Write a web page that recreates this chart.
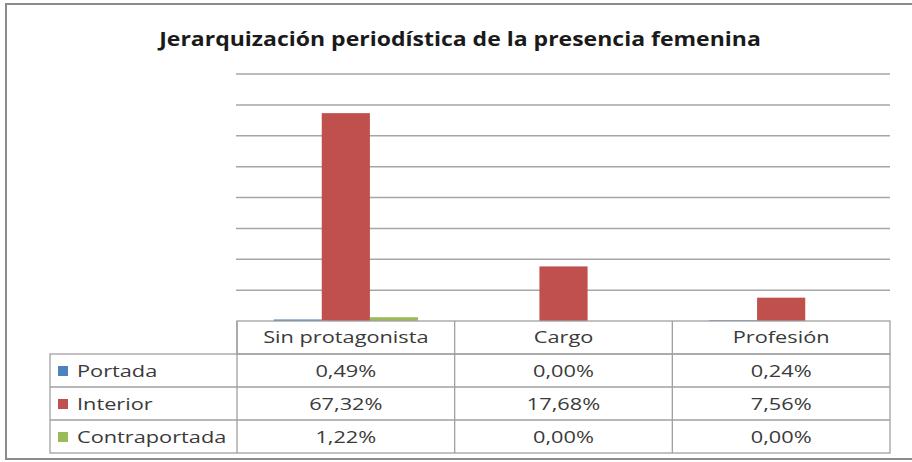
<!DOCTYPE html>
<html>
<head>
<meta charset="utf-8">
<script src="https://cdn.jsdelivr.net/npm/d3@7"></script>
<style>
  body { margin: 0; background: #fff; }
  text { font-family: "Open Sans", "Noto Sans", sans-serif; }
</style>
</head>
<body>
<div id="chart"></div>
<script>
const categories = ["Sin protagonista", "Cargo", "Profesión"];
const seriesNames = ["Portada", "Interior", "Contraportada"];
const portada = [0.49, 0.0, 0.24];
const interior = [67.32, 17.68, 7.56];
const contraportada = [1.22, 0.0, 0.0];
const yTicks = [0, 10, 20, 30, 40, 50, 60, 70, 80];
const colors = ["#4f81bd", "#c0504d", "#9bbb59"];

const seriesValues = [portada, interior, contraportada];
const fmt = v => d3.format(".2f")(v).replace(".", ",") + "%";

const width = 912,
  height = 462;
const plot = { left: 237, right: 890, top: 74, bottom: 321 };
const rowH = 33;
const legendLeft = 50;
const stretch = 1.36; // the table text looks horizontally wide

const svg = d3
  .select("#chart")
  .append("svg")
  .attr("width", width)
  .attr("height", height);

// chart frame
svg
  .append("rect")
  .attr("x", 6)
  .attr("y", 4)
  .attr("width", width + 10)
  .attr("height", 455)
  .attr("fill", "#fff")
  .attr("stroke", "#8c8c8c")
  .attr("stroke-width", 2);

svg
  .append("text")
  .attr("transform", "translate(460,46) scale(1.15,1)")
  .attr("text-anchor", "middle")
  .attr("font-size", 20)
  .attr("font-weight", "bold")
  .attr("fill", "#1a1a1a")
  .text("Jerarquización periodística de la presencia femenina");

const x0 = d3
  .scaleBand()
  .domain(categories)
  .range([plot.left, plot.right])
  .padding(0);

const x1 = d3
  .scaleBand()
  .domain(seriesNames)
  .range([0, x0.bandwidth()])
  .paddingInner(0)
  .paddingOuter(0.76);

const y = d3
  .scaleLinear()
  .domain([0, 80])
  .range([plot.bottom, plot.top]);

// gridlines
svg
  .append("g")
  .selectAll("line")
  .data(yTicks.slice(1))
  .enter()
  .append("line")
  .attr("x1", plot.left - 1)
  .attr("x2", plot.right)
  .attr("y1", d => y(d))
  .attr("y2", d => y(d))
  .attr("stroke", "#a6a6a6")
  .attr("stroke-width", 1.5);

// bars
const groups = svg
  .append("g")
  .selectAll("g")
  .data(categories)
  .enter()
  .append("g")
  .attr("transform", d => `translate(${x0(d)},0)`);

groups
  .selectAll("rect")
  .data((c, ci) => seriesNames.map((s, si) => ({ s, si, v: seriesValues[si][ci] })))
  .enter()
  .append("rect")
  .attr("x", d => x1(d.s))
  .attr("width", x1.bandwidth())
  .attr("y", d => y(d.v))
  .attr("height", d => y(0) - y(d.v))
  .attr("fill", d => colors[d.si]);

// data table
const table = svg.append("g");
const lineColor = "#a0a0a0";
const textColor = "#3a3a3a";

// header row
table
  .append("rect")
  .attr("x", plot.left)
  .attr("y", plot.bottom)
  .attr("width", plot.right - plot.left)
  .attr("height", rowH)
  .attr("fill", "none")
  .attr("stroke", lineColor)
  .attr("stroke-width", 1.3);

table
  .selectAll(".hdr")
  .data(categories)
  .enter()
  .append("text")
  .attr("class", "hdr")
  .attr("transform", d => `translate(${x0(d) + x0.bandwidth() / 2},${plot.bottom + 22}) scale(${stretch},1)`)
  .attr("text-anchor", "middle")
  .attr("font-size", 16)
  .attr("fill", textColor)
  .text(d => d);

// body rows
const bodyTop = plot.bottom + rowH;
table
  .append("rect")
  .attr("x", legendLeft)
  .attr("y", bodyTop)
  .attr("width", plot.right - legendLeft)
  .attr("height", rowH * 3)
  .attr("fill", "none")
  .attr("stroke", lineColor)
  .attr("stroke-width", 1.3);

table
  .selectAll(".hline")
  .data([1, 2])
  .enter()
  .append("line")
  .attr("x1", legendLeft)
  .attr("x2", plot.right)
  .attr("y1", d => bodyTop + d * rowH)
  .attr("y2", d => bodyTop + d * rowH)
  .attr("stroke", lineColor)
  .attr("stroke-width", 1.3);

table
  .selectAll(".vline")
  .data(categories)
  .enter()
  .append("line")
  .attr("x1", d => x0(d))
  .attr("x2", d => x0(d))
  .attr("y1", plot.bottom)
  .attr("y2", bodyTop + rowH * 3)
  .attr("stroke", lineColor)
  .attr("stroke-width", 1.3);

const rows = table
  .selectAll(".row")
  .data(seriesNames)
  .enter()
  .append("g")
  .attr("transform", (d, i) => `translate(0,${bodyTop + i * rowH})`);

rows
  .append("rect")
  .attr("x", legendLeft + 8)
  .attr("y", 12)
  .attr("width", 10)
  .attr("height", 10)
  .attr("fill", (d, i) => colors[i]);

rows
  .append("text")
  .attr("transform", `translate(${legendLeft + 27},23) scale(${stretch},1)`)
  .attr("font-size", 16)
  .attr("fill", textColor)
  .text(d => d);

rows
  .selectAll(".val")
  .data((s, si) => categories.map((c, ci) => ({ c, v: seriesValues[si][ci] })))
  .enter()
  .append("text")
  .attr("transform", d => `translate(${x0(d.c) + x0.bandwidth() / 2},23) scale(${stretch},1)`)
  .attr("text-anchor", "middle")
  .attr("font-size", 16)
  .attr("fill", textColor)
  .text(d => fmt(d.v));
</script>
</body>
</html>
